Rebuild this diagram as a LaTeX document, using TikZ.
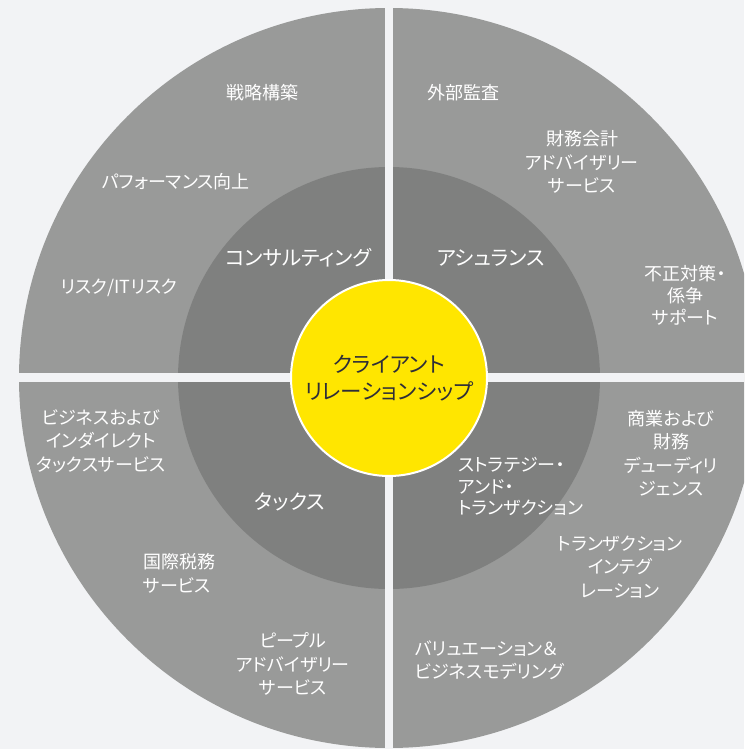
\documentclass[tikz,border=0pt]{standalone}
\usepackage{fontspec}
\setmainfont{Noto Sans CJK JP}[RawFeature=+palt]
\definecolor{bgc}{HTML}{F2F3F5}
\definecolor{outerc}{HTML}{999A99}
\definecolor{innerc}{HTML}{7F807F}
\definecolor{eyyellow}{HTML}{FFE600}
\definecolor{darktext}{HTML}{2E2E38}
\begin{document}
\begin{tikzpicture}[x=1pt,y=-1pt,
  lbl/.style={text=white,inner sep=0pt,align=center,font=\fontsize{18}{23.5}\selectfont},
  lblL/.style={lbl,align=left,anchor=west},
  big/.style={text=white,inner sep=0pt,align=center,font=\fontsize{20.5}{24}\selectfont},
  gap/.style={draw=bgc,line width=8.5pt}]
\useasboundingbox[fill=bgc] (0,0) rectangle (744,749);
\coordinate (c) at (389,378);
\begin{scope}
\clip (0,0) rectangle (744,749);
\fill[outerc] (c) circle[radius=370];
\fill[innerc] (c) circle[radius=211];
\draw[gap] (389,0) -- (389,749);
\draw[gap] (0,377.5) -- (744,377.5);
\end{scope}
\node[circle,fill=eyyellow,draw=white,line width=2pt,minimum size=196pt,inner sep=0pt,
  text=darktext,align=center,font=\fontsize{21.5}{27}\selectfont] (core) at (c) {クライアント\\リレーションシップ};
% consulting
\node[big] (consult) at (298.5,258) {コンサルティング};
\node[lbl] (senryaku) at (262,93) {戦略構築};
\node[lbl] (perf) at (176,182) {パフォーマンス向上};
\node[lbl] (risk) at (119,288) {リスク/ITリスク};
% assurance
\node[big] (assur) at (491,258) {アシュランス};
\node[lbl] (gaibu) at (463,93) {外部監査};
\node[lbl] (zaimu) at (582,162) {財務会計\\アドバイザリー\\サービス};
\node[lbl,font=\fontsize{18}{22}\selectfont] (fusei) at (685,295) {不正対策・\\係争\\サポート};
% tax
\node[big] (tax) at (290,502) {タックス};
\node[lbl] (biz) at (101,441) {ビジネスおよび\\インダイレクト\\タックスサービス};
\node[lblL] (kokusai) at (143,573.5) {国際税務\\サービス};
\node[lbl] (people) at (293,664) {ピープル\\アドバイザリー\\サービス};
% strategy and transactions
\node[lblL,font=\fontsize{18}{21.5}\selectfont] (strat) at (458,486.5) {ストラテジー・\\アンド・\\トランザクション};
\node[lbl] (shogyo) at (671,453) {商業および\\財務\\デューディリ\\ジェンス};
\node[lbl] (trans) at (620,567) {トランザクション\\インテグ\\レーション};
\node[lblL] (valu) at (415,660) {バリュエーション＆\\ビジネスモデリング};
\end{tikzpicture}
\end{document}
